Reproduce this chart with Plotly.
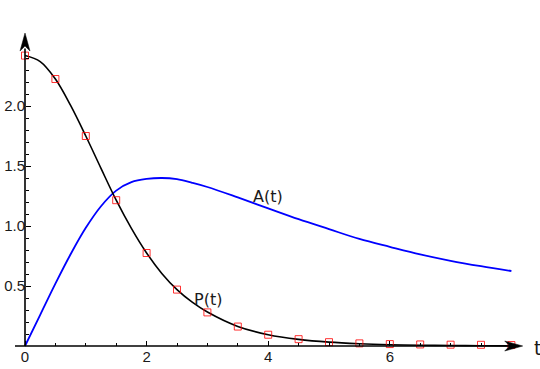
import plotly.graph_objects as go

# ---- data ----
curve_t = [0, 0.25, 0.5, 0.75, 1.0, 1.25, 1.5, 1.75, 2.0, 2.25, 2.5, 2.75, 3.0,
           3.5, 4.0, 4.5, 5.0, 5.5, 6.0, 6.5, 7.0, 7.5, 8.0]
p_curve = [2.42, 2.37, 2.225, 2.005, 1.75, 1.48, 1.215, 0.98, 0.775, 0.605, 0.47, 0.365, 0.283,
           0.163, 0.094, 0.055, 0.032, 0.019, 0.011, 0.0065, 0.004, 0.0023, 0.0013]
a_curve = [0.0, 0.26, 0.52, 0.765, 0.985, 1.165, 1.295, 1.365, 1.392, 1.40, 1.39, 1.36, 1.325,
           1.238, 1.147, 1.057, 0.974, 0.892, 0.826, 0.763, 0.71, 0.665, 0.625]

obs_t = [0, 0.5, 1.0, 1.5, 2.0, 2.5, 3.0, 3.5, 4.0, 4.5, 5.0, 5.5, 6.0, 6.5, 7.0, 7.5, 8.0]
obs_p = [2.42, 2.225, 1.75, 1.215, 0.775, 0.47, 0.28, 0.162, 0.094, 0.057, 0.032, 0.022,
         0.016, 0.013, 0.011, 0.01, 0.008]

x_major = [0, 2, 4, 6]
x_major_text = ["0", "2", "4", "6"]
y_major = [0.5, 1.0, 1.5, 2.0]
y_major_text = ["0.5", "1.0", "1.5", "2.0"]

# ---- geometry ----
W, H = 540, 369
X0PX, Y0PX = 25, 346          # pixel position of the origin
XSCALE, YSCALE = 60.8, 120.0  # pixels per unit
xr = [-X0PX / XSCALE, (W - X0PX) / XSCALE]
yr = [-(H - Y0PX) / YSCALE, Y0PX / YSCALE]

FONT = "Liberation Sans"
LFONT = "DejaVu Sans"
TXT = "#1a1a1a"

fig = go.Figure()
fig.add_trace(go.Scatter(x=curve_t, y=a_curve, mode="lines",
                         line=dict(color="#0000ff", width=1.8, shape="spline", smoothing=1.0),
                         hoverinfo="skip", showlegend=False))
fig.add_trace(go.Scatter(x=curve_t, y=p_curve, mode="lines",
                         line=dict(color="black", width=1.6, shape="spline", smoothing=1.0),
                         hoverinfo="skip", showlegend=False))
fig.add_trace(go.Scatter(x=obs_t, y=obs_p, mode="markers",
                         marker=dict(symbol="square-open", size=7, color="rgba(255,0,0,0.8)", line=dict(width=1)),
                         cliponaxis=False, hoverinfo="skip", showlegend=False))

x_minor = [v * 0.5 for v in range(1, 17) if (v * 0.5) % 2 != 0]
y_minor = [round(v * 0.1, 1) for v in range(1, 25) if v % 5 != 0]

fig.update_layout(
    width=W, height=H, autosize=False,
    margin=dict(l=0, r=0, t=0, b=0, pad=0, autoexpand=False),
    paper_bgcolor="white", plot_bgcolor="white",
    font=dict(family=FONT, size=15, color=TXT),
    xaxis=dict(range=xr, anchor="free", position=(H - Y0PX) / H, automargin=False,
               tickmode="array", tickvals=x_major, ticktext=x_major_text,
               ticks="inside", ticklen=5, tickwidth=1.2, tickcolor="black",
               minor=dict(tickmode="array", tickvals=x_minor, ticks="inside", ticklen=3, tickwidth=1,
                          tickcolor="black", showgrid=False),
               showgrid=False, zeroline=False, showline=False,
               tickfont=dict(family=FONT, size=15, color=TXT)),
    yaxis=dict(range=yr, anchor="free", position=X0PX / W, automargin=False,
               tickmode="array", tickvals=y_major, ticktext=y_major_text,
               ticks="inside", ticklen=5, tickwidth=1.2, tickcolor="black",
               minor=dict(tickmode="array", tickvals=y_minor, ticks="inside", ticklen=3, tickwidth=1,
                          tickcolor="black", showgrid=False),
               showgrid=False, zeroline=False, showline=False,
               tickfont=dict(family=FONT, size=15, color=TXT)),
)

# axis lines
fig.add_shape(type="line", xref="x", yref="y", x0=-0.165, y0=0, x1=8.05, y1=0,
              line=dict(color="black", width=1.6), layer="above")
fig.add_shape(type="line", xref="x", yref="y", x0=0, y0=0, x1=0, y1=2.48,
              line=dict(color="black", width=1.6), layer="above")
# arrow heads (pixel-sized, anchored at the tips)
fig.add_shape(type="path", xref="x", yref="y", xsizemode="pixel", ysizemode="pixel",
              xanchor=8.186, yanchor=0, path="M 0 0 L -18 5 L -13 0 L -18 -5 Z",
              fillcolor="black", line=dict(color="black", width=0.5), layer="above")
fig.add_shape(type="path", xref="x", yref="y", xsizemode="pixel", ysizemode="pixel",
              xanchor=0, yanchor=2.608, path="M 0 0 L -5 -18 L 0 -13 L 5 -18 Z",
              fillcolor="black", line=dict(color="black", width=0.5), layer="above")

# labels
fig.add_annotation(x=4.0, y=1.246, xref="x", yref="y", text="A(t)", showarrow=False,
                   font=dict(family=LFONT, size=16, color=TXT))
fig.add_annotation(x=3.01, y=0.388, xref="x", yref="y", text="P(t)", showarrow=False,
                   font=dict(family=LFONT, size=16, color=TXT))
fig.add_annotation(x=8.43, y=-0.0125, xref="x", yref="y", text="t", showarrow=False,
                   font=dict(family=LFONT, size=19, color=TXT))

fig.write_html("out.html", config={"displayModeBar": False},
               post_script="document.body.style.margin='0px'; document.body.style.overflow='hidden';")
